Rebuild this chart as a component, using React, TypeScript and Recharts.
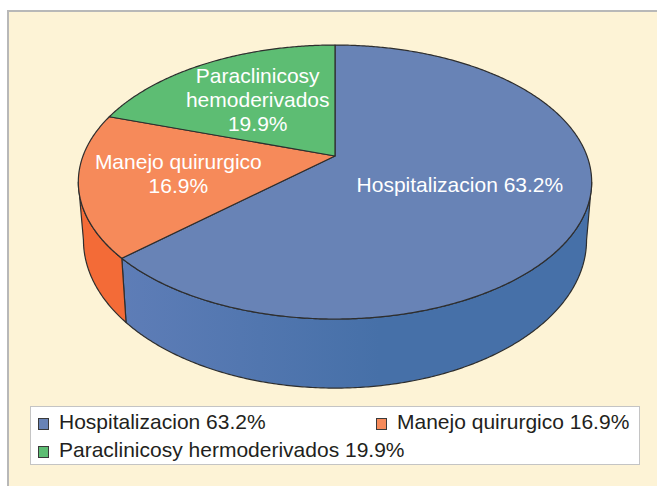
import { PieChart, Pie, Legend } from 'recharts';

const categories = ['Hospitalizacion', 'Manejo quirurgico', 'Paraclinicosy hemoderivados'];
const shares = [63.2, 16.9, 19.9];
const sliceLabels = [
  ['Hospitalizacion 63.2%'],
  ['Manejo quirurgico', '16.9%'],
  ['Paraclinicosy', 'hemoderivados', '19.9%'],
];
const legendLabels = [
  'Hospitalizacion 63.2%',
  'Manejo quirurgico 16.9%',
  'Paraclinicosy hermoderivados 19.9%',
];

const data = categories.map((name, i) => ({ name, value: shares[i] }));

const TOP = ['#6883b6', '#f68a5a', '#5dbd73'];
const SIDE = ['url(#sideBlue)', '#f36b37', '#4fa863'];
const EDGE = '#2e2e2e';
const FONT = '"Liberation Sans", Arial, Helvetica, sans-serif';

// fake 3d: tilted disc seen with a bit of perspective
const K = 0.19;
const SQUASH = 0.524;
const DEPTH = 0.222;
const LABEL_FRACTION = [0.52, 0.62, 0.57];

const project = (cx: number, cy: number, r: number, deg: number, f = 1, drop = 0) => {
  const a = (deg * Math.PI) / 180;
  const X = f * Math.cos(a);
  const Y = f * Math.sin(a);
  const d = 1 + K * Y;
  const shrink = drop ? 0.98 : 1;
  return [cx + (r * X * shrink) / d, cy - (r * SQUASH * Y) / d + (drop * r * DEPTH) / d];
};

const rim = (cx: number, cy: number, r: number, a0: number, a1: number, drop = 0) => {
  const n = Math.max(2, Math.ceil(Math.abs(a1 - a0) * 2));
  const pts: number[][] = [];
  for (let i = 0; i <= n; i++) pts.push(project(cx, cy, r, a0 + ((a1 - a0) * i) / n, 1, drop));
  return pts;
};

const toPath = (pts: number[][]) =>
  pts.map((p, i) => `${i ? 'L' : 'M'}${p[0].toFixed(2)},${p[1].toFixed(2)}`).join('') + 'Z';

// front of the disc, where the wall can be seen
const VIS_LO = -169;
const VIS_HI = -11;

const renderSolid = (p: any) => {
  const { cx, cy, outerRadius, startAngle, endAngle, index } = p;
  const lo = Math.min(startAngle, endAngle);
  const hi = Math.max(startAngle, endAngle);
  const walls: JSX.Element[] = [];
  [-360, 0, 360].forEach((shift) => {
    const a = Math.max(lo, VIS_LO + shift);
    const b = Math.min(hi, VIS_HI + shift);
    if (b > a) {
      const top = rim(cx, cy, outerRadius, a, b);
      const bottom = rim(cx, cy, outerRadius, b, a, 1);
      walls.push(
        <path
          key={`w${shift}`}
          d={toPath([...top, ...bottom])}
          fill={SIDE[index]}
          stroke={EDGE}
          strokeWidth={1.2}
          strokeLinejoin="round"
        />
      );
    }
  });
  const face = [[cx, cy], ...rim(cx, cy, outerRadius, startAngle, endAngle)];
  return (
    <g key={`solid-${index}`}>
      {index === 0 && (
        <defs>
          <linearGradient id="sideBlue" gradientUnits="userSpaceOnUse" x1={120} y1={0} x2={380} y2={0}>
            <stop offset="0%" stopColor="#5e7db7" />
            <stop offset="100%" stopColor="#4670a8" />
          </linearGradient>
        </defs>
      )}
      {walls}
      <path d={toPath(face)} fill={TOP[index]} stroke={EDGE} strokeWidth={1.2} strokeLinejoin="round" />
    </g>
  );
};

const renderText = (p: any) => {
  const { cx, cy, outerRadius, midAngle, index } = p;
  const [x, y] = project(cx, cy, outerRadius, midAngle, LABEL_FRACTION[index]);
  const lines = sliceLabels[index];
  return (
    <text
      key={`t${index}`}
      x={x}
      textAnchor="middle"
      fill="#ffffff"
      fontSize={21}
      fontFamily={FONT}
    >
      {lines.map((ln, i) => (
        <tspan key={i} x={x} y={y + 7 + (i - (lines.length - 1) / 2) * 24}>
          {ln}
        </tspan>
      ))}
    </text>
  );
};

const renderLegend = (props: any) => {
  const payload = (props.payload || []).filter((e: any) => e.type !== 'none').slice(0, categories.length);
  return (
    <div
      style={{
        position: 'relative',
        width: 608,
        height: 57,
        border: '1px solid #c4c4c4',
        background: '#ffffff',
        fontFamily: FONT,
        fontSize: 21,
        color: '#231f20',
      }}
    >
      {payload.map((entry: any, i: number) => (
        <div
          key={entry.value}
          style={{
            position: 'absolute',
            left: i % 2 ? 345 : 7,
            top: 1 + Math.floor(i / 2) * 28,
            height: 28,
            lineHeight: '28px',
            whiteSpace: 'nowrap',
          }}
        >
          <span
            style={{
              position: 'absolute',
              left: 0,
              top: 10,
              width: 9,
              height: 10,
              border: '1px solid #3a3a3a',
              background: TOP[i],
            }}
          />
          <span style={{ marginLeft: 21 }}>{legendLabels[i]}</span>
        </div>
      ))}
    </div>
  );
};

export default function App() {
  return (
    <div style={{ position: 'absolute', left: 0, top: 0, width: 657, height: 486, overflow: 'hidden', background: '#ffffff' }}>
      <div
        style={{
          position: 'absolute',
          left: 7,
          top: 10,
          width: 700,
          height: 520,
          borderLeft: '2px solid #b8b8b8',
          borderTop: '2px solid #b8b8b8',
          background: '#fdf3d6',
        }}
      />
      <div style={{ position: 'absolute', left: 0, top: 0 }}>
        <PieChart width={657} height={486} margin={{ top: 0, right: 0, bottom: 0, left: 0 }}>
          <Pie
            data={data}
            dataKey="value"
            nameKey="name"
            cx={335}
            cy={156}
            outerRadius={252}
            startAngle={90}
            endAngle={-270}
            fill="none"
            stroke="none"
            label={renderSolid}
            labelLine={false}
            isAnimationActive={false}
          />
          <Pie
            data={data}
            dataKey="value"
            nameKey="name"
            cx={335}
            cy={156}
            outerRadius={252}
            startAngle={90}
            endAngle={-270}
            fill="none"
            stroke="none"
            label={renderText}
            labelLine={false}
            legendType="none"
            isAnimationActive={false}
          />
          <Legend
            content={renderLegend}
            wrapperStyle={{ left: 30, top: 406, width: 610, height: 59, bottom: 'auto' }}
          />
        </PieChart>
      </div>
    </div>
  );
}
